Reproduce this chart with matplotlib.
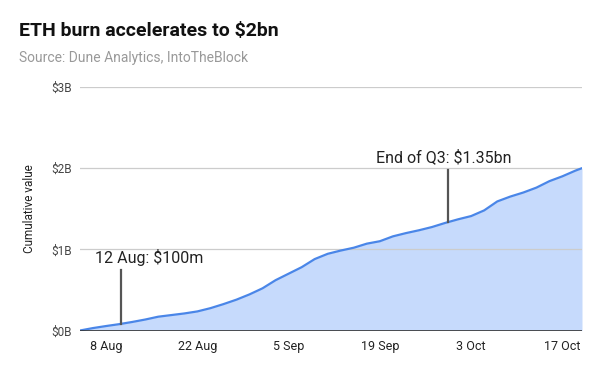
import matplotlib
matplotlib.use("Agg")
import matplotlib.pyplot as plt
import matplotlib.dates as mdates
import numpy as np
import datetime as dt

plt.rcParams['font.family'] = ['Roboto', 'DejaVu Sans']

# Data (days after 4 Aug 2021, cumulative ETH burned in $bn)
day_offsets = [0, 2, 4, 6, 8, 10, 12, 14, 16, 18, 20, 22, 24, 26, 28, 30, 32, 34, 36, 38,
               40, 42, 44, 46, 48, 50, 52, 54, 56, 58, 60, 62, 64, 66, 68, 70, 72, 74, 76, 77]
values_bn = [0.00, 0.03, 0.055, 0.078, 0.105, 0.135, 0.17, 0.19, 0.21, 0.235, 0.275, 0.325,
             0.38, 0.445, 0.52, 0.62, 0.70, 0.78, 0.88, 0.945, 0.985, 1.02, 1.07, 1.10, 1.16,
             1.20, 1.235, 1.275, 1.325, 1.37, 1.41, 1.48, 1.59, 1.65, 1.70, 1.76, 1.84, 1.90,
             1.97, 2.00]
start_date = dt.datetime(2021, 8, 4)
dates = [start_date + dt.timedelta(days=d) for d in day_offsets]

tick_dates = [dt.datetime(2021, 8, 8), dt.datetime(2021, 8, 22), dt.datetime(2021, 9, 5),
              dt.datetime(2021, 9, 19), dt.datetime(2021, 10, 3), dt.datetime(2021, 10, 17)]
tick_labels = ["8 Aug", "22 Aug", "5 Sep", "19 Sep", "3 Oct", "17 Oct"]
y_ticks = [0, 1, 2, 3]
y_labels = ["$0B", "$1B", "$2B", "$3B"]

annotations = [
    # (date of marker, value at curve, top of marker, text, text x date, text y, ha)
    (dt.datetime(2021, 8, 10, 8), 0.08, 0.75, "12 Aug: $100m", dt.datetime(2021, 8, 6, 8), 0.90, "left"),
    (dt.datetime(2021, 9, 29, 10), 1.34, 1.98, "End of Q3: $1.35bn", dt.datetime(2021, 9, 28, 18), 2.14, "center"),
]

fig = plt.figure(figsize=(6, 3.71), dpi=100)
ax = fig.add_axes([80/600, 1 - 330.5/371, (582 - 80)/600, (330.5 - 87)/371])

xd = mdates.date2num(dates)
ax.fill_between(xd, values_bn, 0, color="#c6dafc", lw=0, zorder=1)
ax.plot(xd, values_bn, color="#4a86e8", lw=1.6, zorder=3, solid_capstyle="round")

ax.set_xlim(mdates.date2num(start_date), mdates.date2num(dates[-1]))
ax.set_ylim(0, 3)

for y in y_ticks[1:]:
    ax.axhline(y, color="#cccccc", lw=0.9, zorder=2)
ax.axhline(0, color="#333333", lw=1.2, zorder=4)

ax.set_yticks(y_ticks)
ax.set_yticklabels(y_labels, fontsize=8.5, color="#444444")
ax.set_xticks(mdates.date2num(tick_dates))
ax.set_xticklabels(tick_labels, fontsize=9, color="#222222")
ax.tick_params(axis="both", length=0)
ax.tick_params(axis="y", pad=6)
ax.tick_params(axis="x", pad=7)
for s in ax.spines.values():
    s.set_visible(False)

ax.set_ylabel("Cumulative value", fontsize=8.5, color="#222222", labelpad=11)

for d, v0, v1, txt, tx, ty, ha in annotations:
    xn = mdates.date2num(d)
    ax.plot([xn, xn], [v0, v1], color="#555555", lw=1.6, zorder=5)
    ax.text(mdates.date2num(tx), ty, txt, fontsize=11.5, color="#222222", ha=ha, va="center", zorder=6)

fig.text(19/600, 1 - 31/371, "ETH burn accelerates to $2bn", fontsize=14, fontweight="bold",
         color="#111111", va="center", ha="left")
fig.text(19/600, 1 - 58/371, "Source: Dune Analytics, IntoTheBlock", fontsize=10,
         color="#999999", va="center", ha="left")

fig.savefig("out.png", dpi=100, facecolor="white")
